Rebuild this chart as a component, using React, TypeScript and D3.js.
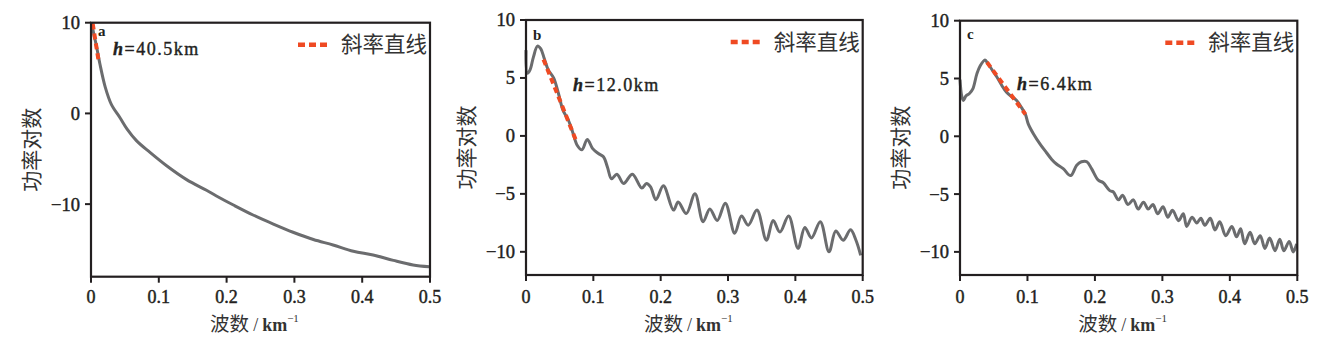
import React from "react";
import * as d3 from "d3";

// wavenumber (km^-1) / log power
const kA = [0.001, 0.004, 0.0084, 0.013, 0.021, 0.03, 0.043, 0.053, 0.067, 0.087, 0.112, 0.141, 0.171, 0.185, 0.21, 0.239, 0.269, 0.298, 0.328, 0.357, 0.387, 0.416, 0.446, 0.475, 0.499];
const pA = [10, 8.8, 7.3, 5.5, 2.9, 1.0, -0.5, -1.7, -3.0, -4.3, -5.8, -7.3, -8.5, -9.1, -10.1, -11.2, -12.2, -13.1, -13.9, -14.5, -15.2, -15.6, -16.2, -16.7, -16.9];

const kB = [0, 0.002, 0.006, 0.011, 0.017, 0.022, 0.027, 0.033, 0.041, 0.048, 0.055, 0.063, 0.07, 0.076, 0.083, 0.091, 0.099, 0.107, 0.115, 0.121, 0.127, 0.135, 0.145, 0.158, 0.172, 0.179, 0.185, 0.193, 0.204, 0.219, 0.226, 0.238, 0.251, 0.263, 0.273, 0.284, 0.296, 0.31, 0.32, 0.33, 0.343, 0.357, 0.367, 0.377, 0.39, 0.404, 0.414, 0.424, 0.437, 0.45, 0.46, 0.471, 0.482, 0.49, 0.497];
const pB = [7.4, 5.4, 5.7, 6.8, 7.75, 7.5, 6.7, 5.7, 5.0, 3.7, 2.2, 1.35, 0.2, -0.8, -1.2, -0.3, -1.1, -1.5, -1.8, -2.7, -3.7, -3.3, -4.1, -3.3, -4.5, -4.1, -4.4, -5.5, -4.3, -6.4, -5.7, -6.7, -5.0, -7.4, -6.3, -7.3, -5.8, -8.4, -6.9, -7.7, -6.4, -9.0, -7.3, -8.3, -6.9, -9.7, -7.9, -8.8, -7.4, -10.0, -8.2, -9.0, -8.1, -9.0, -10.3];

const kC = [0, 0.0025, 0.005, 0.009, 0.014, 0.019, 0.025, 0.03, 0.037, 0.04, 0.047, 0.054, 0.062, 0.069, 0.077, 0.084, 0.091, 0.097, 0.101, 0.109, 0.119, 0.128, 0.136, 0.143, 0.153, 0.164, 0.173, 0.18, 0.188, 0.195, 0.205, 0.212, 0.222, 0.227, 0.235, 0.241, 0.249, 0.257, 0.264, 0.272, 0.279, 0.286, 0.293, 0.301, 0.308, 0.315, 0.324, 0.331, 0.336, 0.344, 0.351, 0.357, 0.363, 0.371, 0.378, 0.385, 0.394, 0.403, 0.41, 0.416, 0.422, 0.43, 0.437, 0.445, 0.452, 0.459, 0.467, 0.474, 0.48, 0.488, 0.494, 0.499];
const pC = [4.9, 3.5, 3.1, 3.5, 3.7, 4.1, 5.4, 6.1, 6.6, 6.4, 5.8, 5.2, 4.4, 3.8, 3.4, 3.1, 2.5, 1.9, 1.1, 0.2, -0.7, -1.4, -2.0, -2.4, -2.8, -3.4, -2.5, -2.2, -2.2, -2.8, -3.8, -4.0, -4.7, -4.8, -5.5, -5.1, -5.9, -5.5, -6.3, -5.7, -6.3, -5.9, -6.7, -6.1, -7.0, -6.4, -7.3, -6.7, -7.8, -7.0, -7.5, -7.1, -7.7, -7.1, -8.1, -7.4, -8.6, -7.8, -8.7, -8.0, -9.3, -8.3, -9.3, -8.6, -9.7, -8.8, -9.9, -8.9, -9.9, -9.1, -10.0, -9.3];

// slope-line end points [k, p]
const slopeA = [[0.0025, 9.9], [0.011, 5.9]];
const slopeB = [[0.026, 6.6], [0.075, -0.5]];
const slopeC = [[0.04, 6.4], [0.097, 1.9]];

const xTicks = [0, 0.1, 0.2, 0.3, 0.4, 0.5];
const yTicksA = [-10, 0, 10];
const yTicksBC = [-10, -5, 0, 5, 10];
const tags = ["a", "b", "c"];
const depths = ["40.5", "12.0", "6.4"];
const legendText = "斜率直线";
const yTitle = "功率对数";

const panels = [
  { k: kA, p: pA, slope: slopeA, yDom: [-18, 10], yTicks: yTicksA, x0: 91, x1: 430, y0: 22.7, y1: 276.7, tag: [98, 36], hPos: [113, 55] },
  { k: kB, p: pB, slope: slopeB, yDom: [-12, 10], yTicks: yTicksBC, x0: 526, x1: 862.7, y0: 20, y1: 275, tag: [533, 40], hPos: [573, 91] },
  { k: kC, p: pC, slope: slopeC, yDom: [-12, 10], yTicks: yTicksBC, x0: 960, x1: 1297.3, y0: 20.7, y1: 275, tag: [967, 39], hPos: [1017, 90] },
];

const serif = "'Liberation Serif', 'Times New Roman', serif";
const cjk = "'Noto Sans CJK SC', sans-serif";
const ink = "#231f20";
const fmtTick = (v: number) => (v < 0 ? "\u2212" + Math.abs(v) : String(v));

const Panel = ({ cfg, i }: any) => {
  const x = d3.scaleLinear().domain([0, 0.5]).range([cfg.x0, cfg.x1]);
  const y = d3.scaleLinear().domain(cfg.yDom).range([cfg.y1, cfg.y0]);
  const pts = cfg.k.map((k: number, j: number) => [k, cfg.p[j]]);
  const line = d3.line<number[]>().x(d => x(d[0])).y(d => y(d[1])).curve(d3.curveCatmullRom.alpha(0.5));
  const straight = d3.line<number[]>().x(d => x(d[0])).y(d => y(d[1]));
  const cx = (cfg.x0 + cfg.x1) / 2;
  const cy = (cfg.y0 + cfg.y1) / 2;
  const legX = cfg.x1 - 132;
  const legY = cfg.y0 + 22;
  return (
    <g>
      <path d={line(pts) || ""} fill="none" stroke="#6b6c6e" strokeWidth={3} strokeLinejoin="round" />
      <path d={straight(cfg.slope) || ""} fill="none" stroke="#ef4a23" strokeWidth={4} strokeDasharray="6 4" />
      <rect x={cfg.x0} y={cfg.y0} width={cfg.x1 - cfg.x0} height={cfg.y1 - cfg.y0} fill="none" stroke={ink} strokeWidth={2.2} />
      {cfg.yTicks.map((t: number) => (
        <g key={t}>
          <line x1={cfg.x0 - 6} x2={cfg.x0} y1={y(t)} y2={y(t)} stroke={ink} strokeWidth={2} />
          <text x={cfg.x0 - 11} y={y(t)} dy="0.35em" textAnchor="end" fontFamily={serif} fontSize={18.5} fill={ink} stroke={ink} strokeWidth={0.45}>{fmtTick(t)}</text>
        </g>
      ))}
      {xTicks.map(t => (
        <g key={t}>
          <line x1={x(t)} x2={x(t)} y1={cfg.y1} y2={cfg.y1 + 6} stroke={ink} strokeWidth={2} />
          <text x={x(t)} y={302.5} textAnchor="middle" fontFamily={serif} fontSize={18} fill={ink} stroke={ink} strokeWidth={0.45}>{fmtTick(t)}</text>
        </g>
      ))}
      <text x={cx - 6} y={331} textAnchor="middle" fill="#333">
        <tspan fontFamily={cjk} fontSize={19.5}>波数</tspan>
        <tspan fontFamily={serif} fontSize={18} dx={4}>/</tspan>
        <tspan fontFamily={serif} fontSize={18} fontWeight="bold" dx={4}>km</tspan>
        <tspan fontFamily={serif} fontSize={11} dy={-9}>−1</tspan>
      </text>
      <text transform={`translate(${cfg.x0 - 59},${cy}) rotate(-90)`} textAnchor="middle" dy="0.35em" fontFamily={cjk} fontSize={21} fill="#333">{yTitle}</text>
      <line x1={legX} x2={legX + 30} y1={legY} y2={legY} stroke="#ef4a23" strokeWidth={4.5} strokeDasharray="7 4" />
      <text x={legX + 43} y={legY} dy="0.35em" fontFamily={cjk} fontSize={21.5} fill="#333">{legendText}</text>
      <text x={cfg.tag[0]} y={cfg.tag[1]} fontFamily={serif} fontWeight="bold" fontSize={15} fill={ink}>{tags[i]}</text>
      <text x={cfg.hPos[0]} y={cfg.hPos[1]} fontFamily={serif} fontSize={18} fill={ink} stroke={ink} strokeWidth={0.4} letterSpacing={1.5}>
        <tspan fontStyle="italic" fontWeight="bold">h</tspan>={depths[i]}km
      </text>
    </g>
  );
};

export default function App() {
  return (
    <svg width={1322} height={351} style={{ position: "absolute", left: 0, top: 0, background: "#fff" }}>
      {panels.map((cfg, i) => <Panel key={i} cfg={cfg} i={i} />)}
    </svg>
  );
}
